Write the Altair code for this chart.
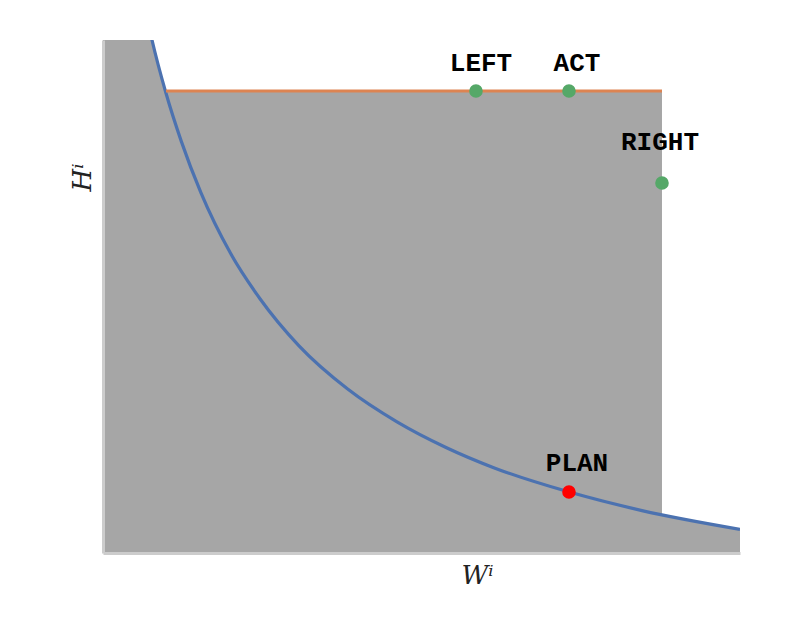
import altair as alt
import pandas as pd

# curve
curve_x = [1.0, 1.5, 1.64, 1.8, 2.0, 2.3, 2.6, 3.0, 3.5, 4.0, 4.5, 5.0, 5.75, 6.5, 7.5]
curve_y = [9.3, 6.2, 5.67, 5.17, 4.65, 4.04, 3.58, 3.10, 2.66, 2.33, 2.07, 1.86, 1.62, 1.43, 1.24]

# budget rectangle / orange constraint
rect_x = [1.0, 6.704]
rect_y = [1.0, 5.683]
line_x = [1.643, 6.704]
line_y = [5.683]

# labelled points
labels = ["LEFT", "ACT", "RIGHT", "PLAN"]
pt_x = [4.806, 5.755, 6.704, 5.755]
pt_y = [5.683, 5.683, 4.751, 1.618]
kinds = ["alt", "alt", "alt", "plan"]

X_DOM = [1.0, 7.5]
Y_DOM = [1.0, 6.2]

xs = alt.Scale(domain=X_DOM, nice=False, zero=False)
ys = alt.Scale(domain=Y_DOM, nice=False, zero=False)

GRAY = "#a6a6a6"
MONO = "Nimbus Mono PS, Courier New, FreeMono, Courier, Liberation Mono"

curve = pd.DataFrame({"x": curve_x, "y": curve_y})
rect = pd.DataFrame({"x": [rect_x[0]], "x2": [rect_x[1]], "y": [rect_y[0]], "y2": [rect_y[1]]})
hline = pd.DataFrame({"x": [line_x[0]], "x2": [line_x[1]], "y": [line_y[0]]})
pts = pd.DataFrame({"label": labels, "x": pt_x, "y": pt_y, "kind": kinds})

xaxis = alt.Axis(title="Wⁱ", ticks=False, labels=False, grid=False,
                 domainColor="#cccccc", domainWidth=3, zindex=1,
                 titleFont="DejaVu Serif", titleFontStyle="italic", titleFontWeight="normal",
                 titleFontSize=26, titleColor="#222222",
                 titleX=374, titleY=30, titleBaseline="alphabetic", titleAlign="center")
yaxis = alt.Axis(title="Hⁱ", ticks=False, labels=False, grid=False,
                 domainColor="#cccccc", domainWidth=3, zindex=1,
                 titleFont="DejaVu Serif", titleFontStyle="italic", titleFontWeight="normal",
                 titleFontSize=26, titleColor="#222222",
                 titleX=-13, titleY=137, titleBaseline="alphabetic", titleAlign="center", titleAngle=270)

rect_l = alt.Chart(rect).mark_rect(color=GRAY).encode(
    x=alt.X("x:Q", scale=xs, axis=xaxis), x2="x2:Q",
    y=alt.Y("y:Q", scale=ys, axis=yaxis), y2="y2:Q")

area_l = alt.Chart(curve).mark_area(color=GRAY, clip=True, interpolate="monotone", opacity=1).encode(
    x=alt.X("x:Q", scale=xs), y=alt.Y("y:Q", scale=ys), y2=alt.datum(1.0))

line_l = alt.Chart(curve).mark_line(color="#4c72b0", strokeWidth=3.2, clip=True, interpolate="monotone").encode(
    x=alt.X("x:Q", scale=xs), y=alt.Y("y:Q", scale=ys))

rule_l = alt.Chart(hline).mark_rule(color="#dd8452", strokeWidth=3.2).encode(
    x=alt.X("x:Q", scale=xs), x2="x2:Q", y=alt.Y("y:Q", scale=ys))

pt_l = alt.Chart(pts).mark_circle(size=185, opacity=1).encode(
    x=alt.X("x:Q", scale=xs), y=alt.Y("y:Q", scale=ys),
    color=alt.Color("kind:N", scale=alt.Scale(domain=["alt", "plan"], range=["#55a868", "#ff0000"]), legend=None))

offsets = {"LEFT": (5, -20), "ACT": (8, -20), "RIGHT": (-2, -33), "PLAN": (8, -21)}
text_layers = []
for lab in labels:
    dx, dy = offsets[lab]
    text_layers.append(
        alt.Chart(pts).transform_filter(alt.datum.label == lab).mark_text(
            font=MONO, fontWeight="bold", fontSize=26, color="black",
            align="center", baseline="alphabetic", dx=dx, dy=dy).encode(
            x=alt.X("x:Q", scale=xs), y=alt.Y("y:Q", scale=ys), text="label:N"))

chart = alt.layer(rect_l, area_l, line_l, rule_l, pt_l, *text_layers).properties(
    width=637, height=513,
    autosize=alt.AutoSizeParams(type="none"),
    padding={"left": 95, "top": 32, "right": 20, "bottom": 60},
).configure_view(stroke=None)

chart.save("out.html", embed_options={"renderer": "svg", "actions": False})
